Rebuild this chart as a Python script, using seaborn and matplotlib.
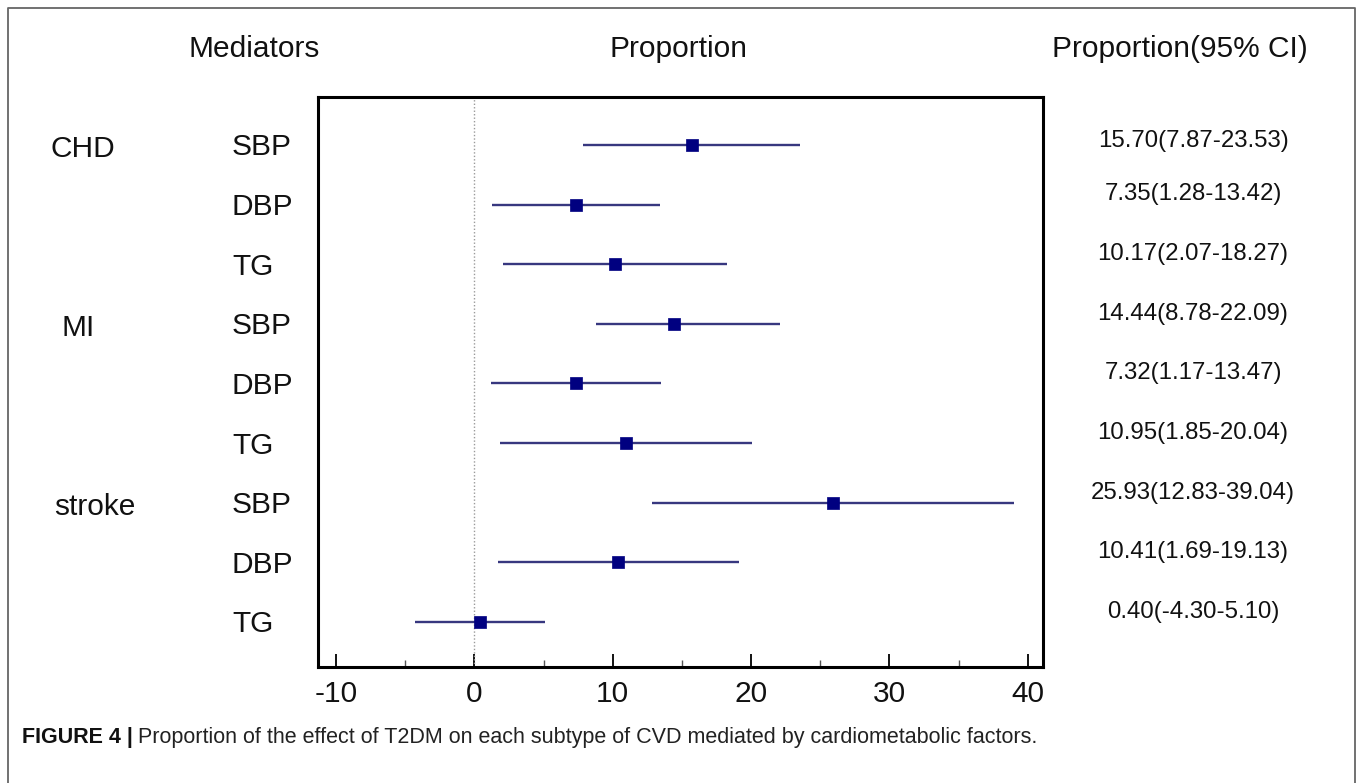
import matplotlib
matplotlib.use("Agg")
import matplotlib.pyplot as plt
import seaborn as sns
import pandas as pd
from matplotlib.lines import Line2D
from matplotlib.ticker import MultipleLocator, FixedLocator

# ---- data ----
groups = ["CHD", "MI", "stroke"]
mediators = ["SBP", "DBP", "TG", "SBP", "DBP", "TG", "SBP", "DBP", "TG"]
estimate = [15.70, 7.35, 10.17, 14.44, 7.32, 10.95, 25.93, 10.41, 0.40]
lower = [7.87, 1.28, 2.07, 8.78, 1.17, 1.85, 12.83, 1.69, -4.30]
upper = [23.53, 13.42, 18.27, 22.09, 13.47, 20.04, 39.04, 19.13, 5.10]
ci_labels = ["15.70(7.87-23.53)", "7.35(1.28-13.42)", "10.17(2.07-18.27)",
             "14.44(8.78-22.09)", "7.32(1.17-13.47)", "10.95(1.85-20.04)",
             "25.93(12.83-39.04)", "10.41(1.69-19.13)", "0.40(-4.30-5.10)"]
x_ticks = [-10, 0, 10, 20, 30, 40]
caption_bold = "FIGURE 4 |"
caption_text = "Proportion of the effect of T2DM on each subtype of CVD mediated by cardiometabolic factors."

sns.set_theme(style="white")
plt.rcParams['font.family'] = ['Liberation Sans', 'DejaVu Sans']
plt.rcParams['axes.unicode_minus'] = False

W, H = 1358, 783
fig = plt.figure(figsize=(W / 100, H / 100), dpi=100)
fig.patch.set_facecolor("white")


def fx(x):
    return x / W


def fy(y):
    return 1 - y / H


ax = fig.add_axes([fx(318), fy(667), (1043 - 318) / W, (667 - 97) / H])

rows = list(range(1, len(estimate) + 1))
df = pd.DataFrame({"mediator": mediators, "estimate": estimate,
                   "lower": lower, "upper": upper, "row": rows})

ax.axvline(0, color="#9a9a9a", lw=1.0, ls=(0, (1, 1.5)), zorder=1)
ax.hlines(df["row"], df["lower"], df["upper"], color="#37377f", lw=1.7, zorder=2)
sns.scatterplot(data=df, x="estimate", y="row", marker="s", s=64,
                color="#000080", edgecolor="#000080", linewidth=0.5,
                ax=ax, zorder=3, legend=False)

ax.set_xlim(-11.3, 41.1)
ax.set_ylim(9.755, 0.195)
ax.set_xlabel("")
ax.set_ylabel("")
ax.set_yticks([])
ax.xaxis.set_major_locator(FixedLocator(x_ticks))
ax.xaxis.set_minor_locator(MultipleLocator(5))
ax.tick_params(axis="x", which="major", direction="in", length=9.5, width=1.3,
               color="black", labelsize=21.5, pad=9, labelcolor="#111111", bottom=True)
ax.tick_params(axis="x", which="minor", direction="in", length=5, width=1.0,
               color="#555555", bottom=True)
for s in ax.spines.values():
    s.set_color("black")
    s.set_linewidth(2.2)

# ---- headers ----
hdr = dict(fontsize=21.5, color="#111111", va="baseline")
fig.text(fx(254), fy(57), "Mediators", ha="center", **hdr)
fig.text(fx(678), fy(57), "Proportion", ha="center", **hdr)
fig.text(fx(1180), fy(57), "Proportion(95% CI)", ha="center", **hdr)

# ---- row labels ----
group_x = [50, 62, 54]
for g, gx, r in zip(groups, group_x, [1, 4, 7]):
    ax.annotate(g, xy=(fx(gx), r), xycoords=("figure fraction", "data"),
                xytext=(0, -9), textcoords="offset points", ha="left",
                va="baseline", fontsize=21.5, color="#111111", annotation_clip=False)

for m, r in zip(mediators, rows):
    ax.annotate(m, xy=(fx(232), r), xycoords=("figure fraction", "data"),
                xytext=(0, -7.5), textcoords="offset points", ha="left",
                va="baseline", fontsize=21.5, color="#111111", annotation_clip=False)

ci_offsets = [-1.5, 3, 3, 3, 3, 3, 3, 3, 3]
for lab, r, off in zip(ci_labels, rows, ci_offsets):
    ax.annotate(lab, xy=(fx(1193), r), xycoords=("figure fraction", "data"),
                xytext=(0, off), textcoords="offset points", ha="center",
                va="baseline", fontsize=17.3, color="#111111", annotation_clip=False)

# ---- caption ----
t1 = fig.text(fx(22), fy(743), caption_bold, ha="left", va="baseline",
              fontsize=15.5, fontweight="bold", color="#111111")
ax.annotate(caption_text, xy=(1, 0), xycoords=t1, xytext=(4, 0),
            textcoords="offset points", ha="left", va="bottom",
            fontsize=15.5, color="#222222", annotation_clip=False)

# ---- outer frame ----
fig.add_artist(Line2D([fx(8), fx(8), fx(1355), fx(1355)], [0, fy(8), fy(8), 0],
                      transform=fig.transFigure, color="#666666", lw=1.3))

fig.savefig("out.png", dpi=100, facecolor="white")
